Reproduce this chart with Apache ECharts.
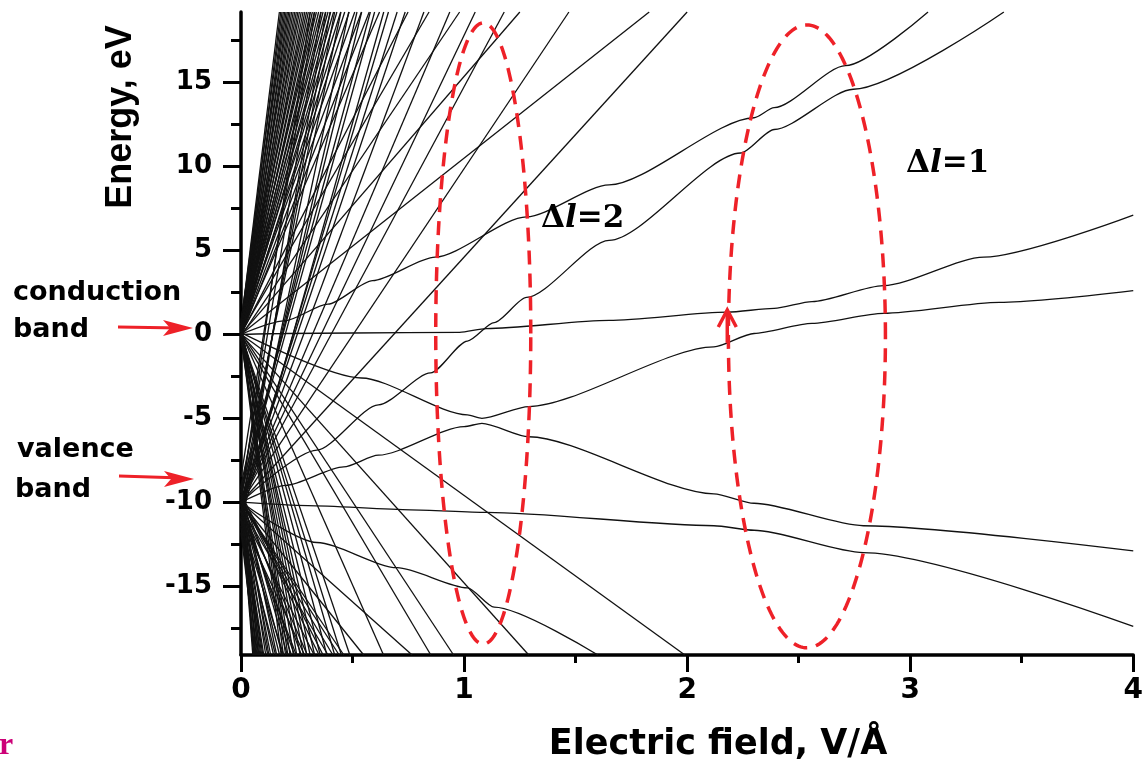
<!DOCTYPE html>
<html><head><meta charset="utf-8">
<script src="https://cdn.jsdelivr.net/npm/echarts@6/dist/echarts.min.js"></script>
<style>html,body{margin:0;padding:0;background:#fff;}#c{width:1146px;height:761px;}</style>
</head><body><div id="c"></div>
<script>
// ---- axis ranges and ticks ----
const X_MIN = 0, X_MAX = 4, Y_MIN = -19.1, Y_MAX = 19.2;
const yMajorTicks = [-15, -10, -5, 0, 5, 10, 15];
const yMinorTicks = [-17.5, -12.5, -7.5, -2.5, 2.5, 7.5, 12.5, 17.5];

// ---- steep / fan levels: [energy at zero field, field where the level leaves the plot] ----
// levels from the conduction band going up (leave through the top)
const cbUpLines = [[0.6,0.172],[0.2,0.178],[0.7,0.184],[0.0,0.190],[0.4,0.196],[0.8,0.202],[0.1,0.208],[0.5,0.214],
  [-0.2,0.220],[0.3,0.227],[0.6,0.234],[0.0,0.241],[0.4,0.248],[-0.1,0.255],[0.5,0.262],[0.2,0.270],[-0.3,0.278],
  [0.3,0.286],[0.6,0.294],[0.0,0.302],[0.4,0.311],[-0.2,0.320],[0.2,0.329],[0.5,0.338],[0.0,0.348],[0.3,0.358],
  [-0.1,0.368],[0.4,0.379],[0.1,0.390],[-0.2,0.402],[0.2,0.415],[0.0,0.430],[0.3,0.447],[-0.1,0.465],[0.1,0.485],
  [0.2,0.510],[0.0,0.540],[-0.1,0.575],[0.1,0.621],
  [0.0,0.749],[0.1,0.843],[-0.1,0.98],[0.0,1.25],[0.0,1.83]];
// levels from the valence band going up (leave through the top)
const vbUpLines = [[-10.0,0.310],[-8.5,0.330],[-9.5,0.359],[-11.5,0.380],[-10.5,0.399],[-9.8,0.420],[-9.0,0.448],
  [-11.0,0.483],[-10.2,0.520],[-10.0,0.541],[-9.2,0.580],[-9.5,0.599],[-11.0,0.640],[-10.5,0.661],[-10.0,0.700],
  [-10.0,0.736],[-10.0,0.820],[-10.0,0.936],[-10.0,1.05],[-10.0,1.18],[-10.0,1.47],[-10.0,2.0]];
// levels from the conduction band going down (leave through the bottom)
const cbDownLines = [[0.0,0.180],[0.2,0.190],[0.3,0.200],[-0.3,0.210],[-0.2,0.220],[0.5,0.235],[0.2,0.250],
  [-0.1,0.265],[0.0,0.280],[0.3,0.295],[0.4,0.310],[0.0,0.330],[-0.1,0.355],[0.2,0.385],[0.1,0.420],[0.0,0.450],
  [0.0,0.488],[0.1,0.639],[0.0,0.851],[0.1,0.953],[0.0,1.29],[0.0,1.99]];
// levels from the valence band going down (leave through the bottom)
const vbDownLines = [[-10.0,0.053],[-9.2,0.056],[-10.5,0.058],[-11.0,0.062],[-11.8,0.065],[-9.5,0.067],[-10.5,0.071],
  [-11.5,0.075],[-9.8,0.078],[-10.0,0.080],[-9.0,0.084],[-11.0,0.089],[-10.0,0.093],[-10.8,0.098],[-10.5,0.102],
  [-9.5,0.111],[-11.0,0.120],[-9.3,0.125],[-10.0,0.133],[-10.5,0.146],[-11.2,0.155],[-9.0,0.160],[-10.0,0.173],
  [-9.8,0.185],[-11.0,0.191],[-9.5,0.208],[-10.0,0.226],[-10.2,0.240],[-10.5,0.248],[-9.5,0.271],[-11.0,0.285],
  [-10.0,0.297],[-10.5,0.328],[-9.7,0.350],[-9.5,0.368],[-10.3,0.390],[-10.0,0.412],[-10.0,0.440],[-10.0,0.461],
  [-10.0,0.55],[-10.0,0.767]];

// ---- individually traced levels (field V/Å, energy eV) ----
const levelC = [[0,0.0],[0.2,0.05],[0.5,0.08],[0.98,0.12],[1.1,0.34],[1.65,0.83],[2.18,1.32],[2.39,1.55],[2.56,1.95],[2.88,2.9],[3.33,4.6],[4.0,7.1]];
const levelA = [[0,-10.0],[0.34,-6.9],[0.616,-4.2],[0.85,-2.3],[1.015,-0.4],[1.135,0.7],[1.28,2.2],[1.65,5.6],[2.24,10.8],[2.39,12.2],[2.745,14.6],[3.42,19.2]];
const levelB = [[0,0.0],[0.195,0.8],[0.39,1.8],[0.59,3.2],[0.87,4.6],[1.28,7.0],[1.65,8.9],[2.30,12.9],[2.39,13.5],[2.71,16.0],[3.08,19.2]];
const levelLower = [[0,-10.0],[0.2,-9.0],[0.46,-7.9],[0.616,-7.2],[1.0,-5.5],[1.08,-5.3],[1.29,-6.1],[2.12,-9.5],[2.30,-10.06],[2.79,-11.4],[4.0,-12.9]];
const levelUpper = [[0,0.1],[0.54,-2.6],[1.015,-4.8],[1.08,-5.0],[1.29,-4.3],[2.12,-0.75],[2.30,0.05],[2.56,0.65],[2.88,1.25],[3.4,1.9],[4.0,2.6]];
const levelE2 = [[0,-10.0],[0.3,-10.2],[0.76,-10.45],[1.1,-10.6],[2.12,-11.4],[2.30,-11.67],[2.79,-13.0],[4.0,-17.4]];
const levelP = [[0,-10.0],[0.34,-12.4],[0.70,-13.9],[1.015,-15.1],[1.135,-16.25],[1.60,-19.1]];

// ---- annotations (data units) ----
const ellipse1 = {cx: 1.086, cy: 0.05, rx: 0.213, ry: 18.5};
const ellipse2 = {cx: 2.537, cy: -0.12, rx: 0.352, ry: 18.55};
const arrowField = 2.18, arrowFrom = -0.5, arrowTo = 1.45;

const series = [];
function addLine(pts, smooth) {
  series.push({type: 'line', data: pts, symbol: 'none', showSymbol: false, silent: true, clip: true,
    smooth: smooth ? 0.25 : false, smoothMonotone: smooth ? 'x' : undefined,
    lineStyle: {color: '#111', width: 1.3}, xAxisIndex: 0, yAxisIndex: 0, z: 2});
}
cbUpLines.forEach(([y0, x1]) => addLine([[0, y0], [x1, Y_MAX]]));
vbUpLines.forEach(([y0, x1]) => addLine([[0, y0], [x1, Y_MAX]]));
cbDownLines.forEach(([y0, x1]) => addLine([[0, y0], [x1, Y_MIN]]));
vbDownLines.forEach(([y0, x1]) => addLine([[0, y0], [x1, Y_MIN]]));
[levelC, levelA, levelB, levelLower, levelUpper, levelE2, levelP].forEach(l => addLine(l, true));

const tickFont = {fontFamily: 'DejaVu Sans', fontWeight: 'bold', color: '#000'};
const option = {
  animation: false,
  backgroundColor: '#fff',
  grid: {left: 241, right: 3, top: 12, bottom: 106, containLabel: false},
  xAxis: {type: 'value', min: X_MIN, max: X_MAX, interval: 1,
    axisLine: {show: true, onZero: false, lineStyle: {color: '#000', width: 3.5}},
    axisTick: {show: true, length: 17, lineStyle: {color: '#000', width: 3}},
    minorTick: {show: true, splitNumber: 2, length: 8, lineStyle: {color: '#000', width: 3}},
    axisLabel: Object.assign({fontSize: 28, margin: 22, alignMaxLabel: 'center', alignMinLabel: 'center'}, tickFont),
    splitLine: {show: false}, minorSplitLine: {show: false}},
  yAxis: [
    {type: 'value', min: Y_MIN, max: Y_MAX, position: 'left',
      axisLine: {show: true, onZero: false, lineStyle: {color: '#000', width: 3.5}},
      axisTick: {show: true, length: 18, customValues: yMajorTicks, lineStyle: {color: '#000', width: 3}},
      axisLabel: Object.assign({fontSize: 26, margin: 29, customValues: yMajorTicks}, tickFont),
      splitLine: {show: false}},
    {type: 'value', min: Y_MIN, max: Y_MAX, position: 'left', offset: 0,
      axisLine: {show: false, onZero: false},
      axisTick: {show: true, length: 10, customValues: yMinorTicks, lineStyle: {color: '#000', width: 3}},
      axisLabel: {show: false}, splitLine: {show: false}}
  ],
  series: series
};

const chart = echarts.init(document.getElementById('c'), null, {renderer: 'canvas'});
chart.setOption(option);

function px(p) { return chart.convertToPixel({xAxisIndex: 0, yAxisIndex: 0}, p); }
function ellipsePts(e) {
  const pts = [];
  for (let i = 0; i < 240; i++) {
    const t = i / 240 * 2 * Math.PI;
    pts.push(px([e.cx + e.rx * Math.cos(t), e.cy + e.ry * Math.sin(t)]));
  }
  return pts;
}
const RED = '#ee2128';
const tip = px([arrowField, arrowTo]);
const tail = px([arrowField, arrowFrom]);
const graphics = [
  {type: 'polygon', z: 100, shape: {points: ellipsePts(ellipse1)}, style: {fill: 'none', stroke: RED, lineWidth: 3.5, lineDash: [14, 9]}},
  {type: 'polygon', z: 100, shape: {points: ellipsePts(ellipse2)}, style: {fill: 'none', stroke: RED, lineWidth: 3.5, lineDash: [14, 9]}},
  {type: 'line', z: 101, shape: {x1: tail[0], y1: tail[1], x2: tip[0], y2: tip[1]}, style: {stroke: RED, lineWidth: 3.5}},
  {type: 'polyline', z: 101, shape: {points: [[tip[0] - 9, tip[1] + 17], [tip[0], tip[1]], [tip[0] + 9, tip[1] + 17]]}, style: {stroke: RED, lineWidth: 3.5, fill: 'none'}},
  {type: 'line', z: 101, shape: {x1: 118, y1: 327, x2: 180, y2: 328}, style: {stroke: RED, lineWidth: 3}},
  {type: 'polygon', z: 101, shape: {points: [[193, 328], [163, 320], [170, 328], [163, 336]]}, style: {fill: RED}},
  {type: 'line', z: 101, shape: {x1: 119, y1: 476, x2: 182, y2: 478}, style: {stroke: RED, lineWidth: 3}},
  {type: 'polygon', z: 101, shape: {points: [[194, 479], [164, 471], [171, 479], [164, 487]]}, style: {fill: RED}},
  {type: 'text', z: 102, x: 13, y: 293, style: {text: 'conduction', fontFamily: 'DejaVu Sans', fontWeight: 'bold', fontSize: 27, fill: '#000', align: 'left', verticalAlign: 'middle'}},
  {type: 'text', z: 102, x: 13, y: 330, style: {text: 'band', fontFamily: 'DejaVu Sans', fontWeight: 'bold', fontSize: 27, fill: '#000', align: 'left', verticalAlign: 'middle'}},
  {type: 'text', z: 102, x: 17, y: 450, style: {text: 'valence', fontFamily: 'DejaVu Sans', fontWeight: 'bold', fontSize: 27, fill: '#000', align: 'left', verticalAlign: 'middle'}},
  {type: 'text', z: 102, x: 15, y: 490, style: {text: 'band', fontFamily: 'DejaVu Sans', fontWeight: 'bold', fontSize: 27, fill: '#000', align: 'left', verticalAlign: 'middle'}},
  {type: 'text', z: 102, x: 121, y: 117, rotation: Math.PI / 2, style: {text: 'Energy, eV', fontFamily: 'Liberation Sans', fontWeight: 'bold', fontSize: 36, fill: '#000', align: 'center', verticalAlign: 'middle'}},
  {type: 'text', z: 102, x: 718, y: 745, style: {text: 'Electric field, V/Å', fontFamily: 'DejaVu Sans', fontWeight: 'bold', fontSize: 35, fill: '#000', align: 'center', verticalAlign: 'middle'}},
  {type: 'text', z: 102, x: 541, y: 219, style: {text: '{a|Δ}{b|l}{a|=2}', align: 'left', verticalAlign: 'middle',
    rich: {a: {fontFamily: 'DejaVu Serif', fontWeight: 'bold', fontSize: 31, fill: '#000'}, b: {fontFamily: 'DejaVu Serif', fontWeight: 'bold', fontStyle: 'italic', fontSize: 31, fill: '#000'}}}},
  {type: 'text', z: 102, x: 906, y: 164, style: {text: '{a|Δ}{b|l}{a|=1}', align: 'left', verticalAlign: 'middle',
    rich: {a: {fontFamily: 'DejaVu Serif', fontWeight: 'bold', fontSize: 31, fill: '#000'}, b: {fontFamily: 'DejaVu Serif', fontWeight: 'bold', fontStyle: 'italic', fontSize: 31, fill: '#000'}}}},
  {type: 'text', z: 102, x: -1, y: 746, style: {text: 'r', fontFamily: 'Liberation Serif', fontWeight: 'bold', fontSize: 32, fill: '#cc0077', align: 'left', verticalAlign: 'middle'}}
];
chart.setOption({graphic: graphics});
</script>
</body></html>
